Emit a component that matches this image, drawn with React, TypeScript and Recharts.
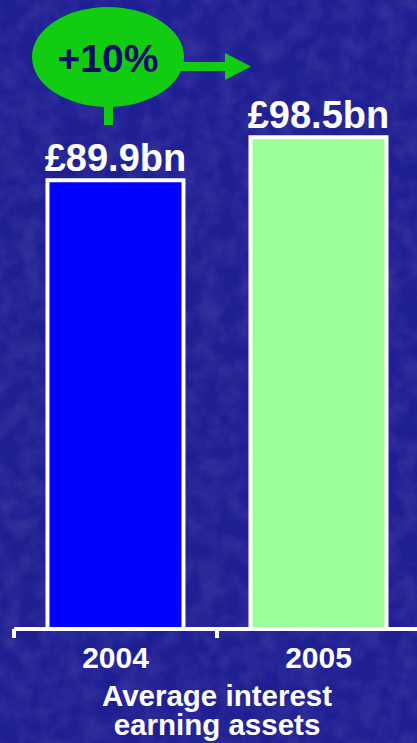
import { Bar, BarChart, Cell, LabelList, XAxis, YAxis } from 'recharts';

// Average interest earning assets, £bn
const years = ['2004', '2005'];
const assets = [89.9, 98.5];
const barFills = ['#0000ff', '#99ff99'];
const growthLabel = '+10%';
const captionLines = ['Average interest', 'earning assets'];

const chartData = years.map((year, i) => ({ year, value: assets[i] }));

const font = '"Liberation Sans", Arial, sans-serif';
const tickLength = 9;

function formatBn(value: number | string): string {
  return `£${value}bn`;
}

// year label plus the boundary tick marks between categories
function YearTick(props: any) {
  const { x, y, payload, index, visibleTicksCount } = props;
  const half = payload.offset ?? 0;
  const edges = [x - half];
  if (index === visibleTicksCount - 1) edges.push(x + half);
  return (
    <g>
      {edges.map(ex => (
        <line
          key={ex}
          x1={ex}
          x2={ex}
          y1={y - tickLength}
          y2={y}
          stroke="#ffffff"
          strokeWidth={4}
        />
      ))}
      <text
        x={x}
        y={y}
        dy={30}
        textAnchor="middle"
        fill="#ffffff"
        fontFamily={font}
        fontWeight="bold"
        fontSize={30}
      >
        {payload.value}
      </text>
    </g>
  );
}

function Caption(props: any) {
  const { viewBox } = props;
  const cx = viewBox.x + viewBox.width / 2;
  return (
    <g>
      {captionLines.map((line, i) => (
        <text
          key={line}
          x={cx}
          y={viewBox.y + 77 + i * 29}
          textAnchor="middle"
          fill="#ffffff"
          fontFamily={font}
          fontWeight="bold"
          fontSize={29.5}
        >
          {line}
        </text>
      ))}
    </g>
  );
}

function ValueLabel(props: any) {
  const { x, y, width, value } = props;
  return (
    <text
      x={x + width / 2}
      y={y - 9}
      textAnchor="middle"
      fill="#ffffff"
      fontFamily={font}
      fontWeight="bold"
      fontSize={38}
    >
      {formatBn(value)}
    </text>
  );
}

// speech-bubble callout with the growth arrow
function GrowthCallout() {
  return (
    <svg
      width={417}
      height={743}
      style={{ position: 'absolute', left: 0, top: 0, pointerEvents: 'none' }}
    >
      <rect x={104} y={96} width={9} height={29} fill="#11cc11" />
      <rect x={176} y={62} width={52} height={9} fill="#11cc11" />
      <polygon points="225,53 251,66.5 225,80" fill="#11cc11" />
      <ellipse cx={108} cy={57} rx={76} ry={50} fill="#11cc11" />
      <text
        x={108}
        y={72}
        textAnchor="middle"
        fill="#0c0c6a"
        fontFamily={font}
        fontWeight="bold"
        fontSize={39}
      >
        {growthLabel}
      </text>
    </svg>
  );
}

function Backdrop() {
  return (
    <svg
      width={417}
      height={743}
      style={{ position: 'absolute', left: 0, top: 0 }}
    >
      <defs>
        <filter id="grain" x="0" y="0" width="100%" height="100%">
          <feTurbulence type="fractalNoise" baseFrequency="0.05" numOctaves={3} seed={4} />
          <feColorMatrix
            type="matrix"
            values="0 0 0 0 0.06  0 0 0 0 0.06  0 0 0 0 0.38  0 0 0 1.8 -0.6"
          />
        </filter>
      </defs>
      <rect width={417} height={743} fill="#1f1f94" />
      <rect width={417} height={743} filter="url(#grain)" opacity={0.5} />
    </svg>
  );
}

export default function App() {
  return (
    <div
      style={{
        position: 'absolute',
        left: 0,
        top: 0,
        width: 417,
        height: 743,
        overflow: 'hidden',
        background: '#1f1f94',
      }}
    >
      <Backdrop />
      <div style={{ position: 'absolute', left: 0, top: 0 }}>
        <BarChart
          width={421}
          height={743}
          data={chartData}
          margin={{ top: 30, right: 1, left: 14, bottom: 0 }}
          barCategoryGap="16.5%"
        >
          <XAxis
            dataKey="year"
            height={114}
            tickSize={tickLength}
            tickMargin={0}
            tickLine={false}
            axisLine={{ stroke: '#ffffff', strokeWidth: 4 }}
            tick={<YearTick />}
            interval={0}
            label={<Caption />}
          />
          <YAxis hide domain={[0, 120]} />
          <Bar
            dataKey="value"
            stroke="#ffffff"
            strokeWidth={4}
            isAnimationActive={false}
          >
            {chartData.map((d, i) => (
              <Cell key={d.year} fill={barFills[i]} />
            ))}
            <LabelList dataKey="value" content={<ValueLabel />} />
          </Bar>
        </BarChart>
      </div>
      <GrowthCallout />
    </div>
  );
}
